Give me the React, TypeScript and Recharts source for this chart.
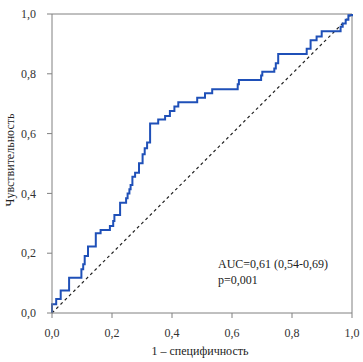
import React from 'react';
import { LineChart, Line, XAxis, YAxis, ReferenceLine, Label } from 'recharts';

const fpr = [0, 0, 0.014, 0.029, 0.057, 0.098, 0.104, 0.109, 0.12, 0.146, 0.162, 0.193, 0.204, 0.208, 0.227, 0.247, 0.252, 0.258, 0.262, 0.268, 0.277, 0.29, 0.302, 0.309, 0.317, 0.327, 0.354, 0.377, 0.393, 0.408, 0.421, 0.484, 0.51, 0.534, 0.619, 0.623, 0.697, 0.701, 0.741, 0.746, 0.754, 0.849, 0.862, 0.882, 0.899, 0.962, 0.969, 0.979, 0.988, 1];
const tpr = [0, 0.029, 0.047, 0.075, 0.118, 0.146, 0.163, 0.191, 0.222, 0.267, 0.278, 0.291, 0.308, 0.328, 0.369, 0.384, 0.4, 0.414, 0.428, 0.456, 0.469, 0.501, 0.531, 0.551, 0.57, 0.634, 0.647, 0.659, 0.676, 0.691, 0.705, 0.72, 0.735, 0.748, 0.765, 0.779, 0.794, 0.807, 0.818, 0.835, 0.866, 0.884, 0.912, 0.925, 0.942, 0.957, 0.968, 0.981, 0.996, 1];
const diagX = [0, 1];
const diagY = [0, 1];
const ticks = [0, 0.2, 0.4, 0.6, 0.8, 1.0];
const tickLabels = ['0,0', '0,2', '0,4', '0,6', '0,8', '1,0'];
const xTitle = '1 – специфичность';
const yTitle = 'Чувствительность';
const annotation = ['AUC=0,61 (0,54-0,69)', 'p=0,001'];

const rocData = fpr.map((x, i) => ({ x, y: tpr[i] }));
const diagData = diagX.map((x, i) => ({ x, d: diagY[i] }));

const FONT = '"Liberation Serif", "Times New Roman", serif';
const AXIS = '#808080';
const fmt = (v: number) => tickLabels[ticks.findIndex((t) => Math.abs(t - v) < 1e-6)] ?? String(v);

export default function App() {
  return (
    <div style={{ position: 'absolute', left: 0, top: 0, width: 363, height: 362, background: '#fff' }}>
      <LineChart width={363} height={362} margin={{ top: 14, right: 11, bottom: 7, left: 12 }}>
        <XAxis
          dataKey="x"
          type="number"
          domain={[0, 1]}
          ticks={ticks}
          tickFormatter={fmt}
          allowDuplicatedCategory={false}
          height={42}
          stroke={AXIS}
          tickSize={5}
          tickMargin={10}
          tick={{ fill: '#333', fontSize: 12, fontFamily: FONT }}
        >
          <Label
            content={() => (
              <text x={200} y={355} textAnchor="middle" fill="#222" fontSize={12} fontFamily={FONT}>
                {xTitle}
              </text>
            )}
          />
        </XAxis>
        <YAxis
          type="number"
          domain={[0, 1]}
          ticks={ticks}
          tickFormatter={fmt}
          width={40}
          stroke={AXIS}
          tickSize={5}
          tickMargin={11}
          tick={{ fill: '#333', fontSize: 12, fontFamily: FONT }}
        >
          <Label
            content={() => (
              <text x={14} y={160} transform="rotate(-90 14 160)" textAnchor="middle" fill="#222" fontSize={12} fontFamily={FONT}>
                {yTitle}
              </text>
            )}
          />
        </YAxis>
        <ReferenceLine y={1} stroke={AXIS} strokeWidth={1} />
        <ReferenceLine x={1} stroke={AXIS} strokeWidth={1} />
        <Line
          data={diagData}
          dataKey="d"
          type="linear"
          stroke="#222"
          strokeWidth={1.2}
          strokeDasharray="3 3"
          dot={false}
          isAnimationActive={false}
        />
        <Line
          data={rocData}
          dataKey="y"
          type="stepAfter"
          stroke="#1f50b8"
          strokeWidth={2}
          dot={false}
          isAnimationActive={false}
        />
      </LineChart>
      <svg width={363} height={362} style={{ position: 'absolute', left: 0, top: 0, pointerEvents: 'none' }}>
        <text x={218} y={268} fill="#222" fontSize={12} fontFamily={FONT}>{annotation[0]}</text>
        <text x={218} y={284} fill="#222" fontSize={12} fontFamily={FONT}>{annotation[1]}</text>
      </svg>
    </div>
  );
}
